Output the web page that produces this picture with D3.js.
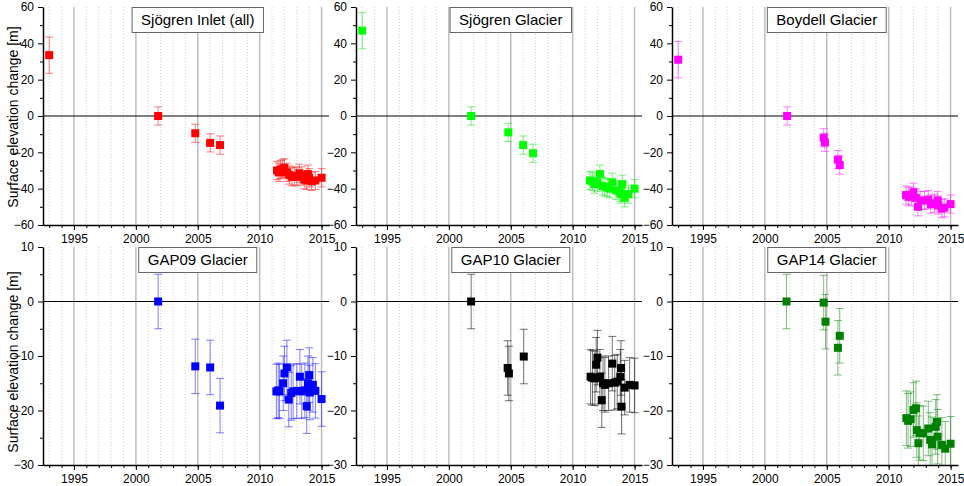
<!DOCTYPE html>
<html>
<head>
<meta charset="utf-8">
<script src="https://cdn.jsdelivr.net/npm/d3@7"></script>
<style>
  body { margin: 0; background: #fff; }
  svg { display: block; font-family: Arial, "Liberation Sans", sans-serif; }
</style>
</head>
<body>
<script>
// panel titles and colours
const panelTitles = ["Sjögren Inlet (all)", "Sjögren Glacier", "Boydell Glacier",
                     "GAP09 Glacier", "GAP10 Glacier", "GAP14 Glacier"];
const markerColors = ["#ff0000", "#00ff00", "#ff00ff", "#0000ff", "#000000", "#008000"];
const errorColors = ["rgba(255,0,0,0.5)", "rgba(0,230,0,0.5)", "rgba(255,0,255,0.5)",
                     "rgba(0,0,255,0.5)", "rgba(0,0,0,0.55)", "rgba(0,128,0,0.5)"];

// axis ticks
const xMajorTicks = [1995, 2000, 2005, 2010, 2015];
const xMinorTicks = d3.range(1993, 2016);
const topYMajor = [-60, -40, -20, 0, 20, 40, 60];
const topYMinor = [-50, -30, -10, 10, 30, 50];
const bottomYMajor = [-30, -20, -10, 0, 10];
const bottomYMinor = [-25, -15, -5, 5];

// Sjögren Inlet (all)
const inletYears = [1993.0, 2001.8, 2004.8, 2006.0, 2006.8, 2011.4, 2011.55, 2011.7, 2011.85, 2012.0,
  2012.2, 2012.4, 2012.6, 2012.8, 2013.0, 2013.2, 2013.4, 2013.6, 2013.8, 2013.9, 2014.0, 2014.2, 2014.5, 2015.0];
const inletValues = [33.5, 0, -9.5, -14.8, -16, -30, -31, -29.5, -29, -28.5,
  -31, -32.5, -33.5, -33, -33.5, -31.5, -33, -35, -35.5, -32, -34, -36, -35.5, -34];
const inletErrors = [10, 5, 5, 5, 5, 5, 5, 5, 5, 5, 5, 5, 5, 5, 5, 5, 5, 5, 5, 5, 5, 5, 5, 5];

// Sjögren Glacier
const sjogrenYears = [1993.0, 2001.8, 2004.8, 2006.0, 2006.8, 2011.4, 2011.6, 2011.75, 2012.0, 2012.2,
  2012.4, 2012.6, 2012.8, 2013.0, 2013.2, 2013.5, 2013.8, 2013.9, 2014.0, 2014.2, 2014.5, 2015.0];
const sjogrenValues = [47, 0, -9, -16, -20.5, -35.5, -36, -37.5, -36.5, -32,
  -38.5, -39, -39.5, -40, -36.5, -41, -42, -43, -37.5, -45, -43, -40];
const sjogrenErrors = [10, 5, 5, 5, 5, 5, 5, 5, 5, 5, 5, 5, 5, 5, 5, 5, 5, 5, 5, 5, 5, 5];

// Boydell Glacier
const boydellYears = [1993.0, 2001.8, 2004.75, 2004.85, 2005.9, 2006.05, 2011.4, 2011.6, 2011.85, 2012.0,
  2012.2, 2012.37, 2012.6, 2012.9, 2013.2, 2013.4, 2013.7, 2013.95, 2014.0, 2014.3, 2014.5, 2015.0];
const boydellValues = [31, 0, -12, -14.5, -24, -27, -43.5, -44.5, -44, -42,
  -45, -50, -46.5, -46.5, -46, -48.5, -48, -46.5, -49, -51, -50.5, -48.5];
const boydellErrors = [10, 5, 5, 5, 5, 5, 5, 5, 5, 5, 5, 5, 5, 5, 5, 5, 5, 5, 5, 5, 5, 5];

// GAP09 Glacier
const gap09Years = [2001.8, 2004.8, 2006.0, 2006.8, 2011.35, 2011.5, 2011.6, 2011.9, 2012.0, 2012.2,
  2012.35, 2012.55, 2012.7, 2013.0, 2013.25, 2013.4, 2013.65, 2013.8, 2013.9, 2014.0, 2014.05, 2014.3, 2014.5, 2015.0];
const gap09Values = [0, -11.9, -12.1, -19.1, -16.5, -16.3, -16.5, -15, -13.2, -12.1,
  -18, -16.8, -16.5, -16.4, -13.8, -16.5, -16.3, -19.2, -15, -13.5, -16.7, -15.3, -16.4, -17.9];
const gap09Errors = [5, 5, 5, 5, 5, 5, 5, 5, 5, 5, 5, 5, 5, 5, 5, 5, 5, 5, 5, 5, 5, 5, 5, 5];

// GAP10 Glacier
const gap10Years = [2001.8, 2004.75, 2004.85, 2006.05, 2011.45, 2011.6, 2011.8, 2011.9, 2012.0, 2012.2,
  2012.35, 2012.45, 2012.6, 2012.9, 2013.2, 2013.4, 2013.6, 2013.85, 2013.9, 2013.95, 2014.2, 2014.6, 2015.0];
const gap10Values = [0, -12.2, -13.2, -10.1, -13.8, -14, -14.1, -11.6, -10.3, -13.8,
  -18.1, -15, -15.3, -15, -11.4, -14.9, -14.7, -13.8, -12.2, -19.3, -15.8, -15.3, -15.4];
const gap10Errors = [5, 5, 5, 5, 5, 5, 5, 5, 5, 5, 5, 5, 5, 5, 5, 5, 5, 5, 5, 5, 5, 5, 5];

// GAP14 Glacier
const gap14Years = [2001.75, 2004.75, 2004.9, 2005.9, 2006.05, 2011.43, 2011.57, 2011.78, 2012.0, 2012.2,
  2012.27, 2012.4, 2012.5, 2012.8, 2013.2, 2013.35, 2013.5, 2013.8, 2013.9, 2013.95, 2014.3, 2014.57, 2015.0];
const gap14Values = [0, -0.2, -3.7, -8.5, -6.3, -21.4, -21.9, -21.6, -19.9, -19.6,
  -23.6, -26, -24.1, -24.2, -23.3, -25.4, -26.2, -23, -22.1, -24.8, -26.3, -27, -26.1];
const gap14Errors = [5, 5, 5, 5, 5, 5, 5, 5, 5, 5, 5, 5, 5, 5, 5, 5, 5, 5, 5, 5, 5, 5, 5];

const W = 964, H = 486;
const colLeft = [43, 356, 672];
const rowTop = [7, 247];
const plotW = 286, plotH = 218;
const mk = 8; // marker size

const panels = [
  [inletYears, inletValues, inletErrors],
  [sjogrenYears, sjogrenValues, sjogrenErrors],
  [boydellYears, boydellValues, boydellErrors],
  [gap09Years, gap09Values, gap09Errors],
  [gap10Years, gap10Values, gap10Errors],
  [gap14Years, gap14Values, gap14Errors]
];

const svg = d3.select("body").append("svg")
  .attr("width", W)
  .attr("height", H);

panels.forEach((p, i) => {
  const row = Math.floor(i / 3), col = i % 3;
  const g = svg.append("g")
    .attr("transform", `translate(${colLeft[col]},${rowTop[row]})`);

  const x = d3.scaleLinear().domain([1992.5, 2015.6]).range([0, plotW]);
  const y = d3.scaleLinear()
    .domain(row === 0 ? [-60, 60] : [-30, 10])
    .range([plotH, 0]);
  const yMajor = row === 0 ? topYMajor : bottomYMajor;
  const yMinor = row === 0 ? topYMinor : bottomYMinor;

  //clip for marks
  const clipId = "clip" + i;
  g.append("clipPath").attr("id", clipId)
    .append("rect").attr("width", plotW).attr("height", plotH);

  //grid: dotted minor years, solid majors
  g.append("g").selectAll("line")
    .data(xMinorTicks.filter(d => d % 5 !== 0))
    .join("line")
    .attr("x1", d => x(d)).attr("x2", d => x(d))
    .attr("y1", 0).attr("y2", plotH)
    .attr("stroke", "#cfcfcf")
    .attr("stroke-width", 1)
    .attr("stroke-dasharray", "1,2");
  g.append("g").selectAll("line")
    .data(xMajorTicks)
    .join("line")
    .attr("x1", d => x(d)).attr("x2", d => x(d))
    .attr("y1", 0).attr("y2", plotH)
    .attr("stroke", "#bdbdbd")
    .attr("stroke-width", 1.5);

  // zero line
  g.append("line")
    .attr("x1", 0).attr("x2", plotW)
    .attr("y1", y(0)).attr("y2", y(0))
    .attr("stroke", "#000").attr("stroke-width", 1);

  // title box
  const tb = g.append("g");
  const tt = tb.append("text")
    .attr("x", x(2005)).attr("y", 13)
    .attr("dy", "0.36em")
    .attr("text-anchor", "middle")
    .attr("font-size", 15)
    .attr("fill", "#000")
    .text(panelTitles[i]);
  const tw = tt.node().getComputedTextLength();
  tb.insert("rect", "text")
    .attr("x", x(2005) - tw / 2 - 9)
    .attr("y", 0.5)
    .attr("width", tw + 18)
    .attr("height", 25)
    .attr("fill", "#fff")
    .attr("stroke", "#666")
    .attr("stroke-width", 1);

  // marks
  const data = p[0].map((yr, k) => ({ yr: yr, v: p[1][k], e: p[2][k] }));
  const marks = g.append("g").attr("clip-path", `url(#${clipId})`);
  const eb = marks.append("g")
    .attr("stroke", errorColors[i])
    .attr("stroke-width", 1)
    .attr("fill", "none");
  eb.selectAll("path")
    .data(data)
    .join("path")
    .attr("d", d => {
      const cx = x(d.yr), t = y(d.v + d.e), b = y(d.v - d.e);
      return `M${cx},${t}V${b}M${cx - 4},${t}H${cx + 4}M${cx - 4},${b}H${cx + 4}`;
    });
  marks.append("g").selectAll("rect")
    .data(data)
    .join("rect")
    .attr("x", d => x(d.yr) - mk / 2)
    .attr("y", d => y(d.v) - mk / 2)
    .attr("width", mk)
    .attr("height", mk)
    .attr("fill", markerColors[i]);

  // axes
  g.append("g")
    .attr("transform", `translate(0,${plotH})`)
    .call(d3.axisBottom(x).tickValues(xMinorTicks).tickSize(3).tickSizeOuter(0).tickFormat(""))
    .call(a => a.select(".domain").remove());
  const xa = g.append("g")
    .attr("transform", `translate(0,${plotH})`)
    .call(d3.axisBottom(x).tickValues(xMajorTicks).tickSize(5).tickSizeOuter(0)
      .tickPadding(4).tickFormat(d3.format("d")));
  xa.selectAll("text").attr("font-size", 12).attr("fill", "#000");

  g.append("g")
    .call(d3.axisLeft(y).tickValues(yMinor).tickSize(3).tickSizeOuter(0).tickFormat(""))
    .call(a => a.select(".domain").remove());
  const ya = g.append("g")
    .call(d3.axisLeft(y).tickValues(yMajor).tickSize(5).tickSizeOuter(0).tickPadding(4));
  ya.selectAll("text").attr("font-size", 12).attr("fill", "#000");

  svg.selectAll(".domain").attr("stroke-width", 1.5);
});

// y axis titles
[117, 362].forEach(cy => {
  svg.append("text")
    .attr("transform", `translate(13,${cy}) rotate(-90)`)
    .attr("text-anchor", "middle")
    .attr("dy", "0.35em")
    .attr("font-size", 14)
    .attr("fill", "#000")
    .text("Surface elevation change [m]");
});
</script>
</body>
</html>
